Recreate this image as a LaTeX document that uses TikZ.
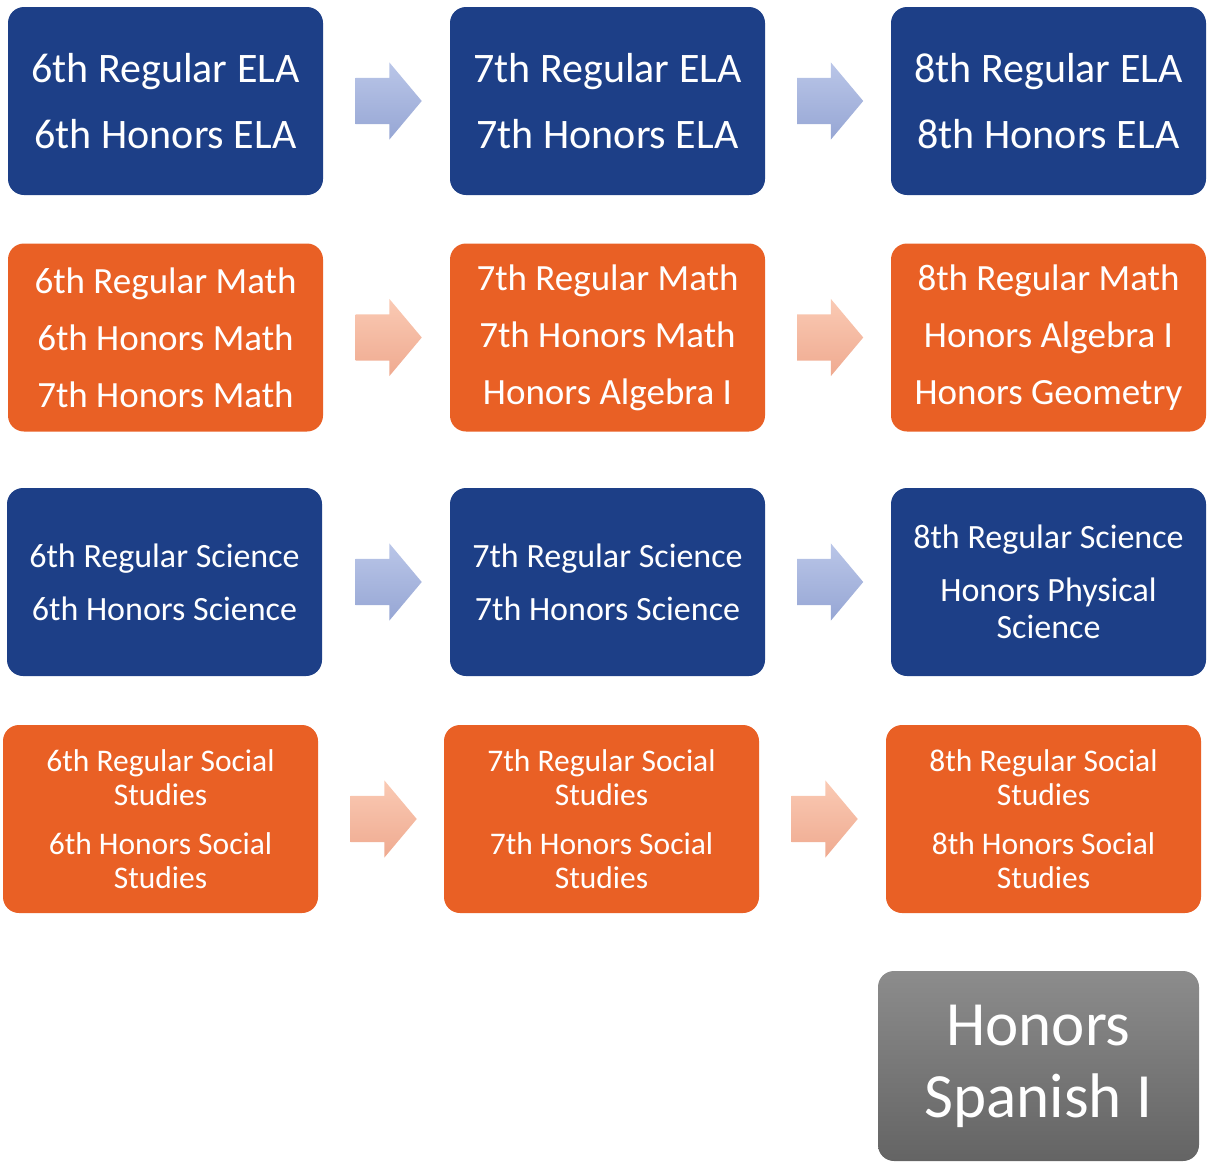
\documentclass[tikz,border=0pt]{standalone}
\usepackage{fontspec}
\setmainfont{Carlito}
\usetikzlibrary{shapes.arrows,calc}
\definecolor{gradeblue}{RGB}{29,63,135}
\definecolor{gradeorange}{RGB}{233,96,37}
\definecolor{arrowblueA}{RGB}{186,198,232}
\definecolor{arrowblueB}{RGB}{150,166,212}
\definecolor{arroworangeA}{RGB}{250,202,180}
\definecolor{arroworangeB}{RGB}{239,170,144}
\definecolor{spanishA}{RGB}{140,140,140}
\definecolor{spanishB}{RGB}{100,100,100}

\begin{document}
\begin{tikzpicture}[x=1pt,y=-1pt,
    course/.style={rectangle, rounded corners=16pt, minimum width=315pt, minimum height=188pt, text=white, align=center, inner sep=0pt},
    bluebox/.style={course, fill=gradeblue},
    orangebox/.style={course, fill=gradeorange},
    elafont/.style={font=\fontsize{42}{66}\selectfont},
    mathfont/.style={font=\fontsize{37}{57}\selectfont},
    scifont/.style={font=\fontsize{34}{53}\selectfont},
    socfont/.style={font=\fontsize{31.5}{49}\selectfont},
    nextarrow/.style={single arrow, single arrow tip angle=100, single arrow head extend=15.5pt, minimum width=77pt, minimum height=66pt, inner xsep=0pt, inner ysep=23pt},
    bluearrow/.style={nextarrow, top color=arrowblueA, bottom color=arrowblueB},
    orangearrow/.style={nextarrow, top color=arroworangeA, bottom color=arroworangeB}]
    \useasboundingbox (0,0) rectangle (1207,1162);

    % ELA
    \node[bluebox, elafont] (ela6) at (165.5,101) {6th Regular ELA\\6th Honors ELA};
    \node[bluebox, elafont] (ela7) at (607.5,101) {7th Regular ELA\\7th Honors ELA};
    \node[bluebox, elafont] (ela8) at (1048.5,101) {8th Regular ELA\\8th Honors ELA};
    % Math
    \node[orangebox, mathfont] (math6) at (165.5,337.5) {6th Regular Math\\6th Honors Math\\7th Honors Math};
    \node[orangebox, mathfont] (math7) at (607.5,337.5) {7th Regular Math\\7th Honors Math\\Honors Algebra I};
    \node[orangebox, mathfont] (math8) at (1048.5,337.5) {8th Regular Math\\Honors Algebra I\\Honors Geometry};
    % Science
    \node[bluebox, scifont] (sci6) at (164.5,582) {6th Regular Science\\6th Honors Science};
    \node[bluebox, scifont] (sci7) at (607.5,582) {7th Regular Science\\7th Honors Science};
    \node[bluebox, scifont] (sci8) at (1048.5,582) {8th Regular Science\\Honors Physical\\[-16pt]Science};
    % Social Studies
    \node[orangebox, socfont] (soc6) at (160.5,819) {6th Regular Social\\[-15pt]Studies\\6th Honors Social\\[-15pt]Studies};
    \node[orangebox, socfont] (soc7) at (601.5,819) {7th Regular Social\\[-15pt]Studies\\7th Honors Social\\[-15pt]Studies};
    \node[orangebox, socfont] (soc8) at (1043.5,819) {8th Regular Social\\[-15pt]Studies\\8th Honors Social\\[-15pt]Studies};
    % Spanish
    \node[course, minimum width=321pt, minimum height=190pt, top color=spanishA, bottom color=spanishB, font=\fontsize{63}{72}\selectfont] (span) at (1038.5,1066) {Honors\\Spanish I};

    % arrows between grades
    \node[bluearrow] (elaA) at ($(ela6)!0.5!(ela7)+(-7.5,0)$) {};
    \node[bluearrow] (elaB) at ($(ela7)!0.5!(ela8)+(-7.5,0)$) {};
    \node[orangearrow] (mathA) at ($(math6)!0.5!(math7)+(-7.5,0)$) {};
    \node[orangearrow] (mathB) at ($(math7)!0.5!(math8)+(-7.5,0)$) {};
    \node[bluearrow] (sciA) at ($(sci6)!0.5!(sci7)+(-7,0)$) {};
    \node[bluearrow] (sciB) at ($(sci7)!0.5!(sci8)+(-7.5,0)$) {};
    \node[orangearrow] (socA) at ($(soc6)!0.5!(soc7)+(-7,0)$) {};
    \node[orangearrow] (socB) at ($(soc7)!0.5!(soc8)+(-7.5,0)$) {};
\end{tikzpicture}
\end{document}
